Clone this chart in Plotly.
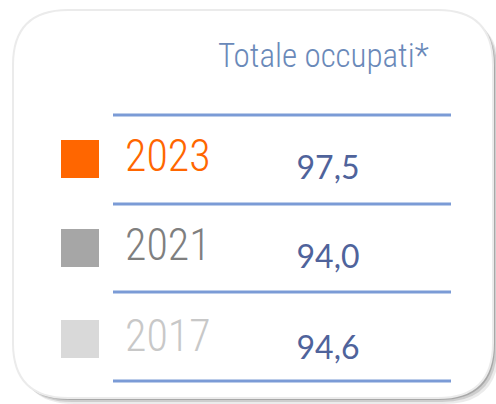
import plotly.graph_objects as go

years = ["2023", "2021", "2017"]
values = ["97,5", "94,0", "94,6"]
year_colors = ["#ff6600", "#7f7f7f", "#c8c8c8"]
square_colors = ["#ff6600", "#a6a6a6", "#d9d9d9"]
title_text = "Totale occupati*"

W, H = 496, 404
row_y = [159, 248, 339]
line_y = [115, 204, 292, 381]

COND = "Roboto Condensed, Open Sans Condensed, Liberation Sans Narrow, DejaVu Sans Condensed, sans-serif"

fig = go.Figure()

# squares
fig.add_trace(go.Scatter(
    x=[80] * len(years), y=row_y, mode="markers",
    marker=dict(symbol="square", size=38, color=square_colors, line=dict(width=0)),
    hoverinfo="skip", showlegend=False))

# year labels
fig.add_trace(go.Scatter(
    x=[125] * len(years), y=[r + 1 for r in row_y], mode="text", text=years,
    textposition="middle right",
    textfont=dict(family=COND, size=44, weight=300, color=year_colors),
    hoverinfo="skip", showlegend=False))

# values
fig.add_trace(go.Scatter(
    x=[328] * len(values), y=[r + 12 for r in row_y], mode="text", text=values,
    textposition="middle center",
    textfont=dict(family="Lato, Noto Sans, sans-serif", size=32, color="#4f639b"),
    hoverinfo="skip", showlegend=False))


def rounded(x0, y0, x1, y1, r):
    return (f"M {x0+r},{y0} L {x1-r},{y0} Q {x1},{y0} {x1},{y0+r} "
            f"L {x1},{y1-r} Q {x1},{y1} {x1-r},{y1} L {x0+r},{y1} "
            f"Q {x0},{y1} {x0},{y1-r} L {x0},{y0+r} Q {x0},{y0} {x0+r},{y0} Z")


shapes = []
# shadow layers
for off, op in [(6, 0.08), (4, 0.12), (2, 0.18)]:
    shapes.append(dict(type="path", path=rounded(13 + off, 10 + off, 493 + off, 398 + off, 55),
                       xref="x", yref="y", fillcolor=f"rgba(0,0,0,{op})", line=dict(width=0),
                       layer="below"))
shapes.append(dict(type="path", path=rounded(13, 10, 493, 398, 55), xref="x", yref="y",
                   fillcolor="white", line=dict(color="#ebebeb", width=2), layer="below"))
for ly in line_y:
    shapes.append(dict(type="line", x0=113, x1=451, y0=ly, y1=ly, xref="x", yref="y",
                       line=dict(color="#7b9bd6", width=3), layer="below"))

fig.update_layout(
    width=W, height=H, margin=dict(l=0, r=0, t=0, b=0),
    paper_bgcolor="white", plot_bgcolor="white",
    shapes=shapes,
    xaxis=dict(range=[0, W], visible=False, fixedrange=True),
    yaxis=dict(range=[H, 0], visible=False, fixedrange=True),
    annotations=[dict(x=431, y=55, xref="x", yref="y", text=title_text, showarrow=False,
                      xanchor="right", yanchor="middle",
                      font=dict(family=COND, size=33, weight=300, color="#6a89b9"))],
)

fig.write_html("out.html", config={"displayModeBar": False},
               post_script="document.body.style.margin='0';document.body.style.overflow='hidden';")
